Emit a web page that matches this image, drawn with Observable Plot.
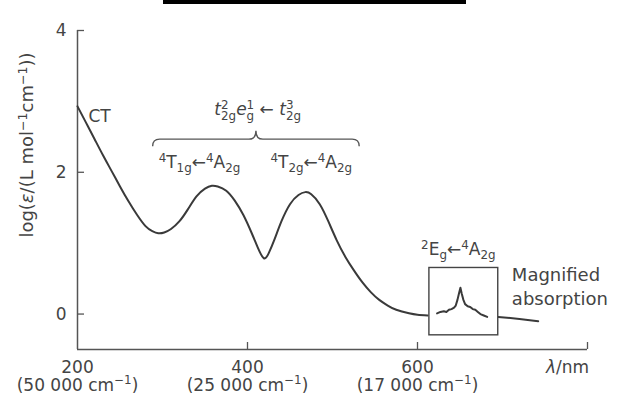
<!DOCTYPE html>
<html><head><meta charset="utf-8">
<script src="https://cdn.jsdelivr.net/npm/d3@7"></script>
<script src="https://cdn.jsdelivr.net/npm/@observablehq/plot@0.6"></script>
<style>
html,body{margin:0;padding:0;background:#fff;}
#wrap{position:relative;width:619px;height:396px;overflow:hidden;}
#topbar{position:absolute;left:163px;top:0;width:303px;height:4px;background:#000;}
</style></head><body>
<div id="wrap"><div id="chart"></div><div id="topbar"></div></div>
<script>
// ---- data ----
const wavelength = [200,210,220,230,240,250,260,270,280,288,295,302,310,320,330,340,350,358,365,375,385,395,405,412,419,425,432,440,450,460,468,475,485,495,505,515,525,535,545,555,565,575,590,600,612];
const logEpsilon = [2.93,2.70,2.47,2.24,2.02,1.80,1.59,1.40,1.24,1.17,1.14,1.15,1.20,1.31,1.48,1.66,1.77,1.81,1.80,1.74,1.60,1.40,1.14,0.94,0.79,0.86,1.06,1.31,1.55,1.68,1.72,1.69,1.55,1.31,1.04,0.81,0.62,0.45,0.31,0.20,0.12,0.06,0.01,-0.01,-0.02];
const tailWavelength = [695,720,742];
const tailLogEpsilon = [-0.04,-0.07,-0.10];
const insetWavelength = [623,627,631,634,637,640,643,645,647,649,650.5,652,654,656,659,662,665,668,671,674,678,682];
const insetLogEpsilon = [0.01,0.03,0.04,0.03,0.06,0.07,0.09,0.12,0.20,0.30,0.37,0.29,0.20,0.14,0.11,0.10,0.07,0.06,0.03,0.0,-0.02,-0.04];
const xDomain = [200, 800];
const yDomain = [-0.5, 4];
const xTicks = [400, 600, 800];
const xLabelTicks = [200, 400, 600];
const xTickLabels = ["200", "400", "600"];
const wavenumberLabels = ["(50 000 cm^{−1})", "(25 000 cm^{−1})", "(17 000 cm^{−1})"];
const yTicks = [0, 2, 4];
const xAxisTitle = ["*{λ}/nm"];
const yAxisTitle = ["log(*{ε}/(L mol^{−1}cm^{−1}))"];
const chargeTransferLabel = ["CT"];
const configLabel = ["*{t}_{2g}^{2}*{e}_{g}^{1} ← *{t}_{2g}^{3}"];
const bandLabels = ["^{4}T_{1g}←^{4}A_{2g}", "^{4}T_{2g}←^{4}A_{2g}"];
const spinForbiddenLabel = ["^{2}E_{g}←^{4}A_{2g}"];
const insetLabel = ["Magnified\nabsorption"];

const mainRows = wavelength.map((w, i) => ({w, e: logEpsilon[i], seg: "main"}))
  .concat(tailWavelength.map((w, i) => ({w, e: tailLogEpsilon[i], seg: "tail"})));
const insetRows = insetWavelength.map((w, i) => ({w, e: insetLogEpsilon[i]}));

const W = 619, H = 396, ML = 77, MR = 32, MT = 30, MB = 47;
const frameW = W - ML - MR, frameH = H - MT - MB, tickLen = 7;
const ink = "#3a3a3a";
const axisInk = "#555";

function braceMark(x1v, x2v, yv, endV, tipV) {
  return (index, {x, y}) => {
    const x1 = x(x1v), x2 = x(x2v), yl = y(yv), ye = y(endV), yt = y(tipV);
    const xm = (x1 + x2) / 2, r = 7;
    const d = `M${x1},${ye} Q${x1},${yl} ${x1 + r},${yl} L${xm - r},${yl} Q${xm},${yl} ${xm},${yt} Q${xm},${yl} ${xm + r},${yl} L${x2 - r},${yl} Q${x2},${yl} ${x2},${ye}`;
    const p = document.createElementNS("http://www.w3.org/2000/svg", "path");
    p.setAttribute("d", d);
    p.setAttribute("fill", "none");
    p.setAttribute("stroke", "#555");
    p.setAttribute("stroke-width", 1.4);
    return p;
  };
}

const chart = Plot.plot({
  width: W,
  height: H,
  marginLeft: ML,
  marginRight: MR,
  marginTop: MT,
  marginBottom: MB,
  x: {domain: xDomain, axis: null},
  y: {domain: yDomain, axis: null},
  style: {fontFamily: "DejaVu Sans", fontSize: "17px", color: "#444", background: "#fff", overflow: "visible"},
  marks: [
    Plot.ruleX([xDomain[0]], {stroke: axisInk, strokeWidth: 1.5}),
    Plot.ruleY([yDomain[0]], {stroke: axisInk, strokeWidth: 1.5}),
    Plot.tickY(yTicks, {y: d => d, insetRight: frameW - tickLen, stroke: axisInk, strokeWidth: 1.3}),
    Plot.tickX(xTicks, {x: d => d, insetTop: frameH - tickLen, stroke: axisInk, strokeWidth: 1.3}),
    Plot.axisY({ticks: yTicks, tickSize: 0, tickPadding: 11, tickFormat: d => `${d}`, label: null, fontSize: 17}),
    Plot.axisX({ticks: xLabelTicks, tickSize: 0, tickPadding: 11, tickFormat: d => xTickLabels[xLabelTicks.indexOf(d)], label: null, fontSize: 17}),
    Plot.axisX({ticks: xLabelTicks, tickSize: 0, tickPadding: 29, tickFormat: d => wavenumberLabels[xLabelTicks.indexOf(d)], label: null, fontSize: 17}),
    Plot.axisX({ticks: [xDomain[1]], tickSize: 0, tickPadding: 11, tickFormat: () => xAxisTitle[0], label: null, dx: -20, fontSize: 17}),
    Plot.text(yAxisTitle, {frameAnchor: "left", textAnchor: "middle", rotate: -90, dx: -50, dy: -45, fontSize: 18, fill: "#444"}),
    Plot.line(mainRows, {x: "w", y: "e", z: "seg", curve: "natural", stroke: ink, strokeWidth: 2}),
    Plot.rect([0], {x1: 614, x2: 695, y1: -0.3, y2: 0.65, fill: "#fff", stroke: "#444", strokeWidth: 1.4}),
    Plot.line(insetRows, {x: "w", y: "e", stroke: ink, strokeWidth: 2}),
    Plot.text(chargeTransferLabel, {x: 226, y: 2.78, fontSize: 17, fill: "#444"}),
    Plot.text(configLabel, {x: 412, y: 2.88, fontSize: 17, fill: "#444"}),
    braceMark(289, 532, 2.46, 2.36, 2.58),
    Plot.text(bandLabels, {x: [343.5, 475], y: [2.14, 2.14], fontSize: 17, fill: "#444"}),
    Plot.text(spinForbiddenLabel, {x: 648, y: 0.91, fontSize: 17, fill: "#444"}),
    Plot.text(insetLabel, {x: 711, y: 0.41, textAnchor: "start", lineHeight: 1.33, fontSize: 18, fill: "#444"})
  ]
});

document.getElementById("chart").append(chart);

// turn ^{..} _{..} *{..} markup into real tspans (super/subscripts, italics)
function richify(root) {
  const ns = "http://www.w3.org/2000/svg";
  root.querySelectorAll("text").forEach(t => {
    if (t.querySelector("tspan")) return;
    const s = t.textContent;
    if (!/[\^_*]\{/.test(s)) return;
    const fs = parseFloat(getComputedStyle(t).fontSize) || 17;
    t.textContent = "";
    const re = /([\^_*])\{([^}]*)\}|([^\^_*]+)/g;
    let m, cur = 0, prev = null, pending = 0;
    while ((m = re.exec(s))) {
      const kind = m[1] || "", text = m[1] ? m[2] : m[3];
      const sp = document.createElementNS(ns, "tspan");
      sp.textContent = text;
      let target = 0;
      if (kind === "^") { target = -0.36 * fs; sp.setAttribute("font-size", 0.7 * fs); }
      else if (kind === "_") { target = 0.26 * fs; sp.setAttribute("font-size", 0.7 * fs); }
      else if (kind === "*") { sp.setAttribute("font-style", "italic"); }
      const dy = target - cur; cur = target;
      if (dy) sp.setAttribute("dy", dy);
      const stacked = prev && ((kind === "^" && prev.kind === "_") || (kind === "_" && prev.kind === "^"));
      t.appendChild(sp);
      if (stacked) {
        const wPrev = prev.el.getComputedTextLength();
        sp.setAttribute("dx", -wPrev);
        const wThis = sp.getComputedTextLength();
        pending = Math.max(0, wPrev - wThis);
      } else if (pending) {
        sp.setAttribute("dx", pending);
        pending = 0;
      }
      prev = {kind, el: sp};
    }
  });
}
richify(chart);
</script>
</body></html>
